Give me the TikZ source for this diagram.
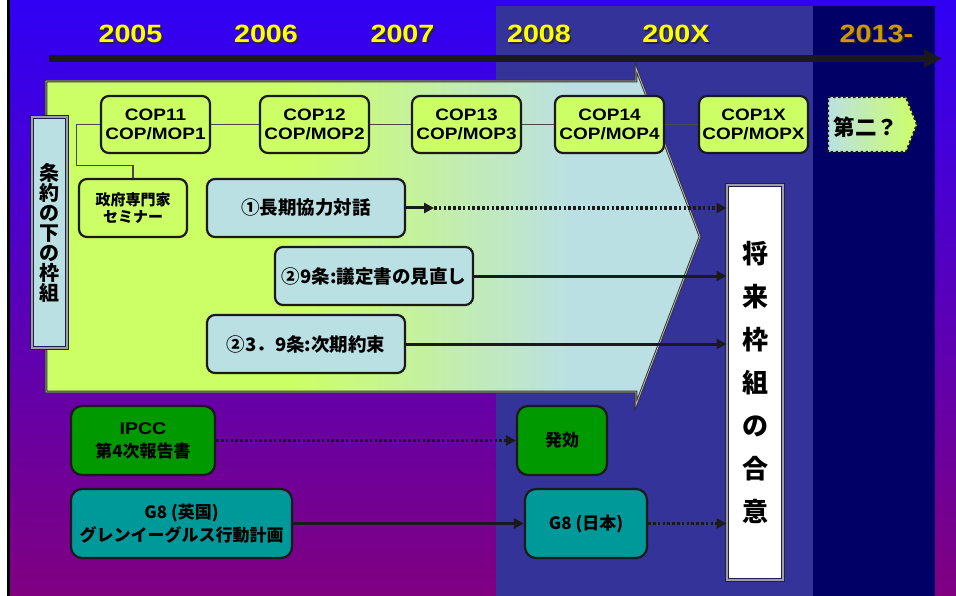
\documentclass[tikz,border=0pt]{standalone}
\usepackage{fontspec}
\setmainfont{Noto Sans CJK JP}
\newfontfamily\jp{Noto Sans CJK JP}
\newfontfamily\lat[FakeStretch=1.15]{Liberation Sans}
\usetikzlibrary{arrows.meta,calc}
\definecolor{bgtop}{RGB}{48,0,245}
\definecolor{bgbot}{RGB}{128,0,128}
\definecolor{band}{RGB}{51,51,153}
\definecolor{dband}{RGB}{0,0,102}
\definecolor{cg}{RGB}{204,255,102}
\definecolor{lb}{RGB}{187,224,227}
\definecolor{gr}{RGB}{0,153,0}
\definecolor{tealb}{RGB}{0,153,153}
\definecolor{ln}{RGB}{26,26,26}
\definecolor{yr}{RGB}{255,255,0}
\definecolor{gold}{RGB}{204,153,0}
\definecolor{fr}{RGB}{30,30,80}
\pgfdeclarehorizontalshading{arrowshade}{100bp}{color(0bp)=(cg); color(44bp)=(cg); color(65bp)=(lb); color(100bp)=(lb)}
\begin{document}
\begin{tikzpicture}[x=1pt,y=-1pt,
  year/.style={font=\lat\bfseries\fontsize{25}{25}\selectfont, inner sep=0pt},
  box/.style={rounded corners=8pt, draw=ln, line width=2.2pt, align=center, inner sep=0pt},
  copbox/.style={box, fill=cg, minimum width=109pt, minimum height=57pt, font=\lat\bfseries\fontsize{16.5}{19.5}\selectfont},
  bluebox/.style={box, fill=lb, minimum width=198pt, minimum height=58pt, font=\jp\bfseries\fontsize{18.5}{22}\selectfont},
  lowbox/.style={box, rounded corners=11pt, minimum height=69pt, font=\jp\bfseries\fontsize{17}{23}\selectfont},
  frame/.style={draw=fr, line width=1pt, double=gray!75, double distance=1.6pt, inner sep=0pt, align=center},
  conn/.style={draw=ln!80, line width=1.1pt},
  arr/.style={draw=ln, line width=3pt, -{Triangle[length=10pt,width=10pt]}},
  dots/.style={line width=3.2pt, dash pattern=on 2.6pt off 2.2pt}
]
\useasboundingbox (0,0) rectangle (956,596);
% background
\fill[white] (0,0) rectangle (956,596);
\shade[top color=bgtop,bottom color=bgbot] (8,0) rectangle (956,596);
\fill[band] (496,6) rectangle (813,596);
\fill[dband] (813,6) rectangle (935,596);
\draw[black,line width=2.5pt] (8.5,0) -- (8.5,596);
% timeline
\coordinate (tlA) at (49,58.5);
\coordinate (tlB) at (942,58.5);
\draw[ln,line width=6.5pt,-{Triangle[length=18pt,width=17pt]}] (tlA) -- (tlB);
% years
\foreach \n/\x/\t/\c in {y05/130.5/2005/yr, y06/266/2006/yr, y07/402.5/2007/yr, y08/539/2008/yr, y0x/676/200X/yr, y13/876.5/2013-/gold}{
  \node[year,text=black!85] (\n s) at (\x+1.4,35.4) {\t};
  \node[year,text=\c] (\n) at (\x,34) {\t};
}
% big arrow
\shade[shading=arrowshade] (46,81) -- (636,81) -- (636,68) -- (700,236.5) -- (636,405) -- (636,392) -- (46,392) -- cycle;
\draw[black!80,line width=2.6pt] (46,81) -- (636,81) -- (636,68) -- (700,236.5) -- (636,405) -- (636,392) -- (46,392) -- cycle;
\draw[gray!55,line width=0.8pt] (46,81) -- (636,81) -- (636,68) -- (700,236.5) -- (636,405) -- (636,392) -- (46,392) -- cycle;
% left label
\node[frame, fill=lb, minimum width=35pt, minimum height=231pt, font=\jp\bfseries\fontsize{20}{20}\selectfont] (lbl) at (49.5,232.5) {条\\約\\の\\下\\の\\枠\\組};
% COP row
\node[copbox] (c11) at (155.5,124.5) {COP11\\COP/MOP1};
\node[copbox] (c12) at (314.5,124.5) {COP12\\COP/MOP2};
\node[copbox] (c13) at (466.5,124.5) {COP13\\COP/MOP3};
\node[copbox] (c14) at (609.5,124.5) {COP14\\COP/MOP4};
\node[copbox] (c1x) at (753.5,124.5) {COP1X\\COP/MOPX};
\draw[conn] (c11) -- (c12);
\draw[conn] (c12) -- (c13);
\draw[conn] (c13) -- (c14);
\draw[conn] (c14) -- (c1x);
% seminar
\node[copbox, minimum width=108pt, minimum height=58pt, font=\jp\bfseries\fontsize{15}{17.5}\selectfont] (sem) at (133,208) {政府専門家\\セミナー};
\draw[conn] (c11.west) -- ++(-23,0) |- ($(sem.north)+(0,-12)$) -- (sem.north);
% dialogue boxes
\node[bluebox] (d1) at (306,208) {①長期協力対話};
\node[bluebox] (d2) at (374,276) {②9条:議定書の見直し};
\node[bluebox] (d3) at (306,344) {②3．9条:次期約束};
% future agreement
\node[frame, fill=white, minimum width=56pt, minimum height=395pt, font=\jp\bfseries\fontsize{26}{43}\selectfont] (fut) at (755,382.5) {将\\来\\枠\\組\\の\\合\\意};
% second period
\shade[left color=lb, right color=cg] (828,97) -- (906,97) -- (917,124.5) -- (906,152) -- (828,152) -- cycle;
\draw[ln, line width=2.2pt, dash pattern=on 2.5pt off 2.5pt] (828,97) -- (906,97) -- (917,124.5) -- (906,152) -- (828,152) -- cycle;
\node[font=\jp\bfseries\fontsize{21.5}{22}\selectfont, inner sep=0pt] (daini) at (866,127) {第二？};
% lower boxes
\node[lowbox, fill=gr, minimum width=144pt] (ipcc) at (143,440.5) {{\lat IPCC}\\第4次報告書};
\node[lowbox, fill=gr, minimum width=90pt] (hak) at (562,440.5) {発効};
\node[lowbox, fill=tealb, minimum width=221pt] (g8uk) at (181.5,523.5) {G8 (英国)\\グレンイーグルス行動計画};
\node[lowbox, fill=tealb, minimum width=122pt] (g8jp) at (586,523.5) {G8 (日本)};
% arrows
\coordinate (d1m) at (434,208);
\draw[arr] (d1.east) -- (d1m);
\draw[arr,dots] (d1m) -- (fut.west |- d1m);
\draw[arr] (d2.east) -- (fut.west |- d2.east);
\draw[arr] (d3.east) -- (fut.west |- d3.east);
\draw[arr,dots] (ipcc) -- (hak);
\draw[arr] (g8uk) -- (g8jp);
\draw[arr,dots] (g8jp.east) -- (fut.west |- g8jp.east);
\end{tikzpicture}
\end{document}
